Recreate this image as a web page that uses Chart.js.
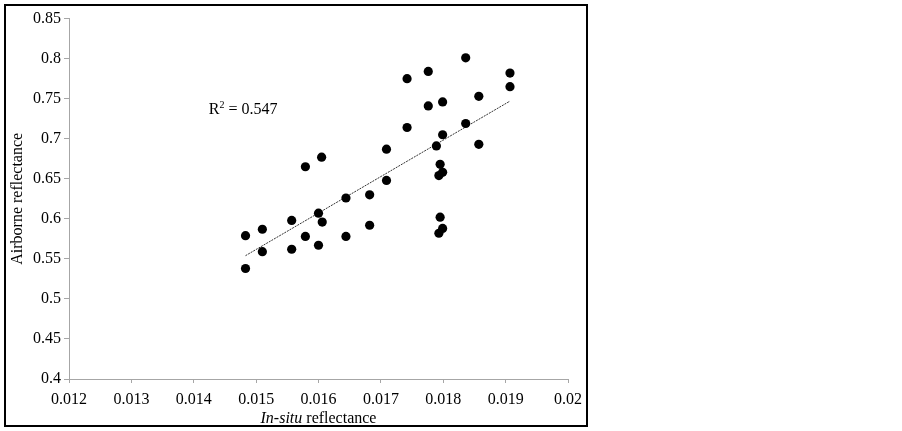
<!DOCTYPE html>
<html>
<head>
<meta charset="utf-8">
<script src="https://cdn.jsdelivr.net/npm/chart.js@4.4.1/dist/chart.umd.min.js"></script>
<style>
  html, body { margin: 0; padding: 0; background: #fff; }
  #box {
    position: absolute; left: 4px; top: 4px;
    width: 584px; height: 423px;
    box-sizing: border-box;
    border: 2px solid #000;
  }
  #box canvas { display: block; }
</style>
</head>
<body>
<div id="box"><canvas id="scatter"></canvas></div>
<script>
// in-situ reflectance (x) vs airborne reflectance (y)
const insitu = [
  0.01483, 0.01483, 0.01510, 0.01510, 0.01557, 0.01557, 0.01579, 0.01579,
  0.01600, 0.01600, 0.01606, 0.01605, 0.01644, 0.01644, 0.01682, 0.01682,
  0.01709, 0.01709, 0.01742, 0.01742, 0.01776, 0.01776, 0.01789, 0.01799,
  0.01799, 0.01795, 0.01799, 0.01793, 0.01795, 0.01799, 0.01793, 0.01836,
  0.01836, 0.01857, 0.01857, 0.01907, 0.01907
];
const airborne = [
  0.579, 0.538, 0.587, 0.559, 0.598, 0.562, 0.578, 0.665,
  0.607, 0.567, 0.596, 0.677, 0.626, 0.578, 0.630, 0.592,
  0.687, 0.648, 0.775, 0.714, 0.784, 0.741, 0.691, 0.746,
  0.705, 0.668, 0.658, 0.654, 0.602, 0.588, 0.582, 0.801,
  0.719, 0.753, 0.693, 0.782, 0.765
];
// linear trend line end points
const trendX = [0.01483, 0.01907];
const trendY = [0.554, 0.747];
const rSquared = '0.547';
const rLabelAt = [0.01424, 0.731];

const xTicks = { min: 0.012, max: 0.02, step: 0.001 };
const yTicks = { min: 0.4, max: 0.85, step: 0.05 };

const serif = "'Liberation Serif', 'Times New Roman', serif";
Chart.defaults.font.family = serif;
Chart.defaults.font.size = 16;
Chart.defaults.color = '#000';

const points = insitu.map((x, i) => ({ x: x, y: airborne[i] }));
const trend = trendX.map((x, i) => ({ x: x, y: trendY[i] }));

const labels = {
  id: 'labels',
  afterDraw(chart) {
    const ctx = chart.ctx;
    const xs = chart.scales.x, ys = chart.scales.y;
    ctx.save();
    ctx.fillStyle = '#000';
    ctx.textBaseline = 'alphabetic';
    ctx.textAlign = 'left';

    // R² annotation
    let px = xs.getPixelForValue(rLabelAt[0]);
    const py = ys.getPixelForValue(rLabelAt[1]);
    ctx.font = '16px ' + serif;
    ctx.fillText('R', px, py);
    px += ctx.measureText('R').width;
    ctx.font = '10px ' + serif;
    ctx.fillText('2', px, py - 6);
    px += ctx.measureText('2').width;
    ctx.font = '16px ' + serif;
    ctx.fillText(' = ' + rSquared, px, py);

    // x axis title, "In-situ" in italics
    const a = 'In-situ', b = ' reflectance';
    ctx.font = 'italic 16px ' + serif;
    const wa = ctx.measureText(a).width;
    ctx.font = '16px ' + serif;
    const wb = ctx.measureText(b).width;
    const cx = (chart.chartArea.left + chart.chartArea.right) / 2;
    const ty = chart.chartArea.bottom + 44;
    let tx = cx - (wa + wb) / 2;
    ctx.font = 'italic 16px ' + serif;
    ctx.fillText(a, tx, ty);
    ctx.font = '16px ' + serif;
    ctx.fillText(b, tx + wa, ty);
    ctx.restore();
  }
};

new Chart(document.getElementById('scatter'), {
  type: 'scatter',
  data: {
    datasets: [{
      data: points,
      pointRadius: 4.6,
      pointHoverRadius: 4.6,
      backgroundColor: '#000',
      borderWidth: 0,
      order: 0
    }, {
      type: 'line',
      data: trend,
      borderColor: '#333',
      borderWidth: 1,
      borderDash: [2, 1],
      pointRadius: 0,
      fill: false,
      order: 1
    }]
  },
  options: {
    responsive: true,
    maintainAspectRatio: false,
    animation: false,
    layout: { padding: { top: 10, right: 18, left: 0, bottom: 0 } },
    plugins: { legend: { display: false }, tooltip: { enabled: false } },
    scales: {
      x: {
        type: 'linear',
        min: xTicks.min, max: xTicks.max,
        afterFit: s => { s.height = 46; s.paddingLeft = 0; s.paddingRight = 0; },
        ticks: {
          stepSize: xTicks.step,
          padding: 7,
          color: '#000',
          callback: v => String(Number(v.toFixed(3)))
        },
        grid: { drawOnChartArea: false, tickLength: 4, color: '#a6a6a6' },
        border: { color: '#a6a6a6' }
      },
      y: {
        min: yTicks.min, max: yTicks.max,
        afterFit: s => { s.width = 63; },
        ticks: {
          stepSize: yTicks.step,
          padding: 3,
          color: '#000',
          callback: v => String(Number(v.toFixed(2)))
        },
        grid: { drawOnChartArea: false, tickLength: 5, color: '#a6a6a6' },
        border: { color: '#a6a6a6' },
        title: {
          display: true,
          text: 'Airborne reflectance',
          padding: { top: 2, bottom: 0 }
        }
      }
    }
  },
  plugins: [labels]
});
</script>
</body>
</html>
